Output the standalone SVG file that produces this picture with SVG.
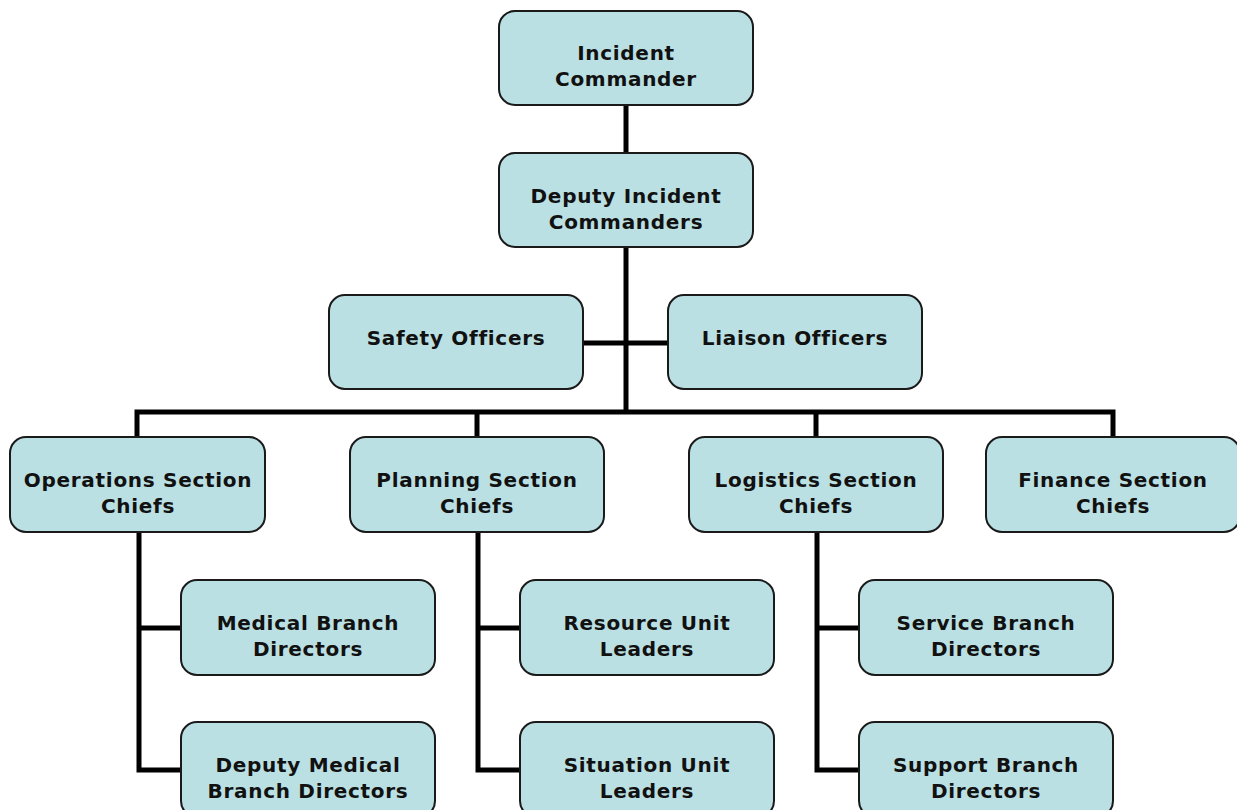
<svg xmlns="http://www.w3.org/2000/svg" width="1237" height="810" viewBox="0 0 1237 810">
<style>
.box{fill:#bae0e3;stroke:#1a1a1a;stroke-width:2}
.t{font-family:"DejaVu Sans","Verdana",sans-serif;font-weight:bold;font-size:20px;letter-spacing:0.7px;fill:#111;text-anchor:middle}
.c{fill:none;stroke:#000;stroke-width:5}
</style>
<rect width="1237" height="810" fill="#fff"/>
<g id="connectors">
<path class="c" d="M626 105V412"/>
<path class="c" d="M583 343H668"/>
<path class="c" d="M137 437V412H1113V437M477 412V437M816 412V437"/>
<path class="c" d="M139 532V770H181M139 628H181"/>
<path class="c" d="M478 532V770H520M478 628H520"/>
<path class="c" d="M817 532V770H859M817 628H859"/>
</g>
<g id="incident-commander"><rect class="box" x="499" y="11" width="254" height="94" rx="16"/><text class="t" x="626" y="60">Incident</text><text class="t" x="626" y="86">Commander</text></g>
<g id="deputy-incident-commanders"><rect class="box" x="499" y="153" width="254" height="94" rx="16"/><text class="t" x="626" y="203">Deputy Incident</text><text class="t" x="626" y="229">Commanders</text></g>
<g id="safety-officers"><rect class="box" x="329" y="295" width="254" height="94" rx="16"/><text class="t" x="456" y="345">Safety Officers</text></g>
<g id="liaison-officers"><rect class="box" x="668" y="295" width="254" height="94" rx="16"/><text class="t" x="795" y="345">Liaison Officers</text></g>
<g id="operations"><rect class="box" x="10" y="437" width="255" height="95" rx="16"/><text class="t" x="138" y="487">Operations Section</text><text class="t" x="138" y="513">Chiefs</text></g>
<g id="planning"><rect class="box" x="350" y="437" width="254" height="95" rx="16"/><text class="t" x="477" y="487">Planning Section</text><text class="t" x="477" y="513">Chiefs</text></g>
<g id="logistics"><rect class="box" x="689" y="437" width="254" height="95" rx="16"/><text class="t" x="816" y="487">Logistics Section</text><text class="t" x="816" y="513">Chiefs</text></g>
<g id="finance"><rect class="box" x="986" y="437" width="254" height="95" rx="16"/><text class="t" x="1113" y="487">Finance Section</text><text class="t" x="1113" y="513">Chiefs</text></g>
<g id="medical"><rect class="box" x="181" y="580" width="254" height="95" rx="16"/><text class="t" x="308" y="630">Medical Branch</text><text class="t" x="308" y="656">Directors</text></g>
<g id="deputy-medical"><rect class="box" x="181" y="722" width="254" height="95" rx="16"/><text class="t" x="308" y="772">Deputy Medical</text><text class="t" x="308" y="798">Branch Directors</text></g>
<g id="resource"><rect class="box" x="520" y="580" width="254" height="95" rx="16"/><text class="t" x="647" y="630">Resource Unit</text><text class="t" x="647" y="656">Leaders</text></g>
<g id="situation"><rect class="box" x="520" y="722" width="254" height="95" rx="16"/><text class="t" x="647" y="772">Situation Unit</text><text class="t" x="647" y="798">Leaders</text></g>
<g id="service"><rect class="box" x="859" y="580" width="254" height="95" rx="16"/><text class="t" x="986" y="630">Service Branch</text><text class="t" x="986" y="656">Directors</text></g>
<g id="support"><rect class="box" x="859" y="722" width="254" height="95" rx="16"/><text class="t" x="986" y="772">Support Branch</text><text class="t" x="986" y="798">Directors</text></g>
</svg>
